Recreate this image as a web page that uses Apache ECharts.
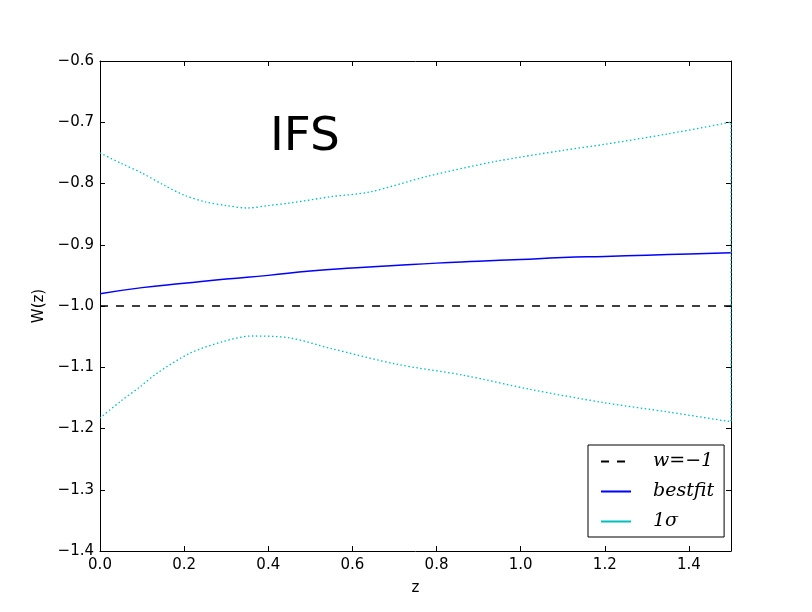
<!DOCTYPE html>
<html>
<head>
<meta charset="utf-8">
<script src="https://cdn.jsdelivr.net/npm/echarts@6/dist/echarts.min.js"></script>
<style>
html,body{margin:0;padding:0;background:#fff;}
#c{width:812px;height:612px;}
</style>
</head>
<body>
<div id="c"></div>
<script>
// Data
const zUpper = [0, 0.05, 0.1, 0.15, 0.2, 0.25, 0.3, 0.35, 0.4, 0.45, 0.55, 0.64, 0.78, 0.94, 1.1, 1.2, 1.35, 1.5];
const wUpper = [-0.750, -0.767, -0.783, -0.802, -0.819, -0.830, -0.836, -0.840, -0.836, -0.832, -0.8215, -0.814, -0.788, -0.764, -0.746, -0.736, -0.719, -0.700];
const zLower = [0, 0.05, 0.095, 0.135, 0.214, 0.293, 0.36, 0.45, 0.547, 0.705, 0.864, 1.022, 1.2, 1.35, 1.5];
const wLower = [-1.183, -1.155, -1.132, -1.110, -1.077, -1.058, -1.049, -1.052, -1.069, -1.095, -1.113, -1.136, -1.158, -1.173, -1.189];
const zBest = [0, 0.1, 0.2, 0.3, 0.4, 0.5, 0.6, 0.7, 0.8, 0.9, 1.0, 1.1, 1.2, 1.3, 1.4, 1.5];
const wBest = [-0.980, -0.970, -0.963, -0.956, -0.950, -0.943, -0.938, -0.934, -0.930, -0.927, -0.924, -0.921, -0.919, -0.917, -0.915, -0.913];
const zRef = [0, 1.5];
const wRef = [-1, -1];
const seriesNames = ['w=\u22121', 'bestfit', '1\u03c3'];
const plotTitle = 'IFS';

const toPairs = (xs, ys) => xs.map((x, i) => [x, ys[i]]);
// 1σ contour: upper branch left→right, then lower branch right→left
const sigmaData = toPairs(zUpper, wUpper).concat(toPairs(zLower, wLower).reverse());

const fmt = v => {
  const s = (Math.round(v * 10) / 10).toFixed(1);
  return s.replace('-', '\u2212');
};
const font = 'DejaVu Sans';
const axisCommon = {
  axisLine: {show: true, onZero: false, lineStyle: {color: '#000', width: 1}},
  axisTick: {show: true, inside: true, length: 5, lineStyle: {color: '#000'}},
  splitLine: {show: false}
};

const chart = echarts.init(document.getElementById('c'), null, {renderer: 'canvas'});
chart.setOption({
  backgroundColor: '#fff',
  animation: false,
  grid: {left: 100, top: 61, right: 81, bottom: 61, containLabel: false},
  xAxis: [
    Object.assign({
      type: 'value', min: 0, max: 1.5, interval: 0.2, position: 'bottom',
      name: 'z', nameLocation: 'middle', nameGap: 30,
      nameTextStyle: {fontFamily: font, fontSize: 15, color: '#000'},
      axisLabel: {fontFamily: font, fontSize: 15, color: '#000', margin: 7,
        formatter: v => (v > 1.45 ? '' : fmt(v)), showMaxLabel: false}
    }, axisCommon),
    Object.assign({
      type: 'value', min: 0, max: 1.5, interval: 0.2, position: 'top',
      axisLabel: {show: false}
    }, axisCommon)
  ],
  yAxis: [
    Object.assign({
      type: 'value', min: -1.4, max: -0.6, interval: 0.1, position: 'left',
      name: 'W(z)', nameLocation: 'middle', nameGap: 53, nameRotate: 90,
      nameTextStyle: {fontFamily: font, fontSize: 15, color: '#000'},
      axisLabel: {fontFamily: font, fontSize: 15, color: '#000', margin: 6, formatter: fmt}
    }, axisCommon),
    Object.assign({
      type: 'value', min: -1.4, max: -0.6, interval: 0.1, position: 'right',
      axisLabel: {show: false}
    }, axisCommon)
  ],
  legend: {
    orient: 'vertical', left: 588, top: 445,
    padding: [7, 10, 6, 12],
    itemWidth: 30, itemHeight: 10, itemGap: 11,
    borderColor: '#000', borderWidth: 1, borderRadius: 0,
    backgroundColor: '#fff',
    itemStyle: {opacity: 0},
    textStyle: {fontFamily: 'DejaVu Serif', fontStyle: 'italic', fontSize: 19, color: '#000', padding: [0, 0, 0, 17]},
    data: [
      {name: seriesNames[0]},
      {name: seriesNames[1]},
      {name: seriesNames[2], lineStyle: {type: 'solid', width: 2}}
    ]
  },
  graphic: [{
    type: 'text', left: 270, top: 114,
    style: {text: plotTitle, fontFamily: font, fontSize: 47, fill: '#000'}
  }],
  series: [
    {
      name: seriesNames[0], type: 'line', data: toPairs(zRef, wRef), symbol: 'none',
      lineStyle: {color: '#000', width: 1.5, type: [8, 8]}, itemStyle: {color: '#000'}
    },
    {
      name: seriesNames[1], type: 'line', data: toPairs(zBest, wBest), symbol: 'none', smooth: true,
      lineStyle: {color: '#0000ff', width: 1.5}, itemStyle: {color: '#0000ff'}
    },
    {
      name: seriesNames[2], type: 'line', data: sigmaData, symbol: 'none', smooth: 0.3,
      lineStyle: {color: '#00bfbf', width: 1.3, type: [1.5, 2.5]}, itemStyle: {color: '#00bfbf'}
    }
  ]
});
</script>
</body>
</html>
